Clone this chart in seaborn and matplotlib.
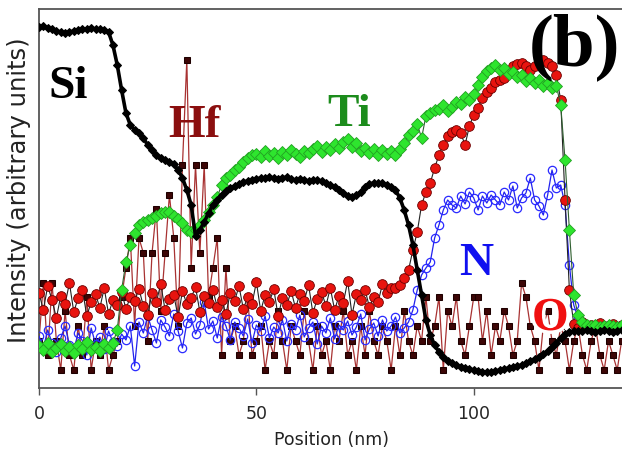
import matplotlib
matplotlib.use("Agg")
import matplotlib.pyplot as plt
import matplotlib.patheffects as pe
import numpy as np
import seaborn as sns

# EDS line scan, intensities in arbitrary units, sampled every 1 nm
position = np.arange(0, 135)

si = [361, 362, 360, 359, 357, 356, 355, 356, 357, 358, 359, 359, 360, 359, 359, 358, 356,
      343, 323, 298, 275,
      263, 258, 255, 250, 243, 238, 233, 230, 228, 226, 224, 218, 210, 198, 183, 152,
      158, 166, 175, 183, 188, 193, 197, 200, 202, 204, 206, 207, 208, 209, 210,
      210, 211, 210, 209, 210, 211, 209, 208, 209, 208, 207, 208, 208,
      207, 205, 203, 201, 198, 195, 192, 191, 193, 196, 201, 204, 205, 205, 205, 203, 201, 198,
      190, 178, 163, 143, 118, 93, 68, 53, 43, 36, 31, 27, 25, 23, 21, 20, 19, 18, 17, 16,
      16, 16, 17, 18, 19, 20, 21, 22, 23, 25, 27, 29, 31, 34, 37, 41, 45, 50, 54, 56,
      57, 57, 57, 58, 57, 56, 57, 58, 57, 56, 57, 58]

ti = [42, 38, 45, 36, 40, 44, 37, 41, 35, 43, 39, 46, 38, 41, 37, 44, 40, 45,
      58, 98, 126, 143, 155, 163, 166, 168, 170, 172, 175, 176, 176, 172, 169, 165, 158, 156,
      158, 163, 168, 176, 183, 191, 203, 210, 213, 218, 221, 226, 230, 233,
      234, 231, 237, 232, 235, 230, 236, 233, 238, 234, 231, 237, 235, 239, 242, 236, 241,
      238, 244, 240, 246, 249, 241, 245, 237, 240, 235, 239, 233, 238, 234, 237, 233, 239,
      245, 253, 257, 264, 250, 272, 275, 278, 279, 283, 277, 281, 286, 284, 291, 288, 294,
      303, 311, 317, 320, 323, 318, 320, 314, 316, 311, 313, 307, 310, 305, 308, 302, 305,
      300, 302, 283, 228, 158, 93, 73, 66,
      63, 62, 63, 61, 62, 63, 62, 61, 63]

oxygen = [95, 78, 102, 88, 70, 92, 84, 105, 76, 90, 98, 72, 86, 94, 80, 100, 74, 88, 83, 96,
          79, 91, 87, 99, 82, 73, 95, 86, 104, 78, 89, 93, 71, 97, 84, 90, 101, 76, 92, 85,
          98, 81, 88, 74, 95, 87, 102, 79, 91, 84, 106, 77, 93, 86, 99, 72, 90, 83, 97, 80,
          94, 87, 103, 75, 89, 96, 82, 100, 78, 92, 85, 107, 73, 94, 88, 98, 81, 91, 86, 104,
          95, 100, 100, 103, 110,
          118, 138, 156, 183, 196, 205, 220, 233, 243, 252, 256, 258, 255, 243, 262, 273,
          280, 290, 296, 300, 306, 308, 310, 316, 322, 324, 325, 322, 318, 322, 327, 328,
          325, 322, 313, 288, 188, 98,
          64, 60, 66, 61, 63, 59, 65, 62, 60, 64, 61, 63]

nitrogen = [52, 40, 58, 45, 36, 50, 62, 43, 38, 55, 47, 33, 60, 44, 51, 39, 57, 46, 42, 54,
            48, 62, 22, 66, 55, 72, 58, 45, 68, 61, 52, 74, 57, 40, 65, 70, 54, 63, 86, 59,
            67, 50, 71, 62, 48, 66,
            60, 52, 69, 45, 63, 57, 72, 50, 61, 55, 68, 47, 64, 58, 73, 51, 60, 66, 44, 62,
            55, 70, 49, 63, 58, 67, 53, 61, 74, 48, 59, 65, 52, 68, 57, 62, 71, 55, 60, 66,
            78, 98, 113, 120, 126, 150, 163, 178, 188, 183, 180, 192, 184, 196, 190, 178,
            192, 185, 193, 188, 183, 196, 188, 202, 180, 190, 195, 210, 188, 182, 173, 193,
            218, 200, 203, 183, 123, 83, 70, 66,
            62, 61, 63, 61, 62, 63, 61, 62, 63]

hf = [47, 105, 33, 105, 47, 18, 77, 33, 18, 62, 33, 91, 18, 47, 33, 62, 18, 33, 47, 91,
      120, 150, 62, 150, 135, 47, 135, 179, 77, 135, 193, 150, 62, 223, 328, 120, 223, 135,
      223, 91, 120, 150, 33, 120,
      47, 62, 33, 47, 91, 33, 47, 62, 18, 47, 33, 77, 47, 18, 62, 47, 33, 77, 47, 18,
      62, 33, 47, 18, 62, 47, 77, 33, 47, 18, 62, 33, 77, 47, 33, 62, 47, 18, 62, 33,
      77, 47, 33, 62, 47,
      91, 47, 62, 91, 18, 77, 62, 91, 47, 33, 62, 91, 91, 47, 77, 33, 62, 47, 77, 62,
      33, 47, 105, 91, 62, 47, 18, 62, 77, 47, 33, 62, 47, 18, 47, 62, 33, 18, 47, 62,
      33, 18, 47, 33, 18, 47]

# element label text, colour, (x, baseline y)
labels = [("Si", "black", 6.7, 290),
          ("Hf", "#8b0f0f", 35.7, 251),
          ("Ti", "#1c8c1c", 71.4, 262),
          ("N", "#1010f0", 100.6, 113),
          ("O", "#f01010", 117.6, 58)]

sns.set_style("white")
plt.rcParams["font.family"] = ["DejaVu Sans"]

fig = plt.figure(figsize=(6.22, 4.53), dpi=100)
ax = fig.add_axes([39 / 622, 65 / 453, 583 / 622, 379 / 453])

common = dict(ax=ax, sort=False, estimator=None, legend=False)
sns.lineplot(x=position, y=hf, color="#a83232", lw=0.9, marker="s", markersize=5,
             markerfacecolor="#3c0606", markeredgecolor="#1e0000", zorder=2, **common)
sns.lineplot(x=position, y=nitrogen, color="#2222ee", lw=0.9, marker="o", markersize=6,
             markerfacecolor="none", markeredgecolor="#2a2aff", markeredgewidth=0.9,
             zorder=3, **common)
sns.lineplot(x=position, y=oxygen, color="#222222", lw=0.8, marker="o", markersize=7,
             markerfacecolor="#e8140f", markeredgecolor="#6a0000", markeredgewidth=0.6,
             zorder=4, **common)
sns.lineplot(x=position, y=ti, color="#2f5f2f", lw=0.8, marker="D", markersize=6.5,
             markerfacecolor="#2ee52e", markeredgecolor="#22a022", markeredgewidth=0.6,
             zorder=5, **common)
sns.lineplot(x=position, y=si, color="black", lw=2.6, marker="D", markersize=4.5,
             markerfacecolor="black", markeredgecolor="black", zorder=6, **common)

for text, col, lx, ly in labels:
    t = ax.text(lx, ly, text, color=col, fontsize=34, fontweight="bold",
                family="Liberation Serif", ha="center", va="baseline", zorder=8)
    if text == "O":
        t.set_path_effects([pe.withStroke(linewidth=5, foreground="white")])
ax.text(123.2, 323, "(b)", color="black", fontsize=54, fontweight="bold",
        family="Liberation Serif", ha="center", va="baseline", zorder=9)

ax.set_xlim(0, 134.1)
ax.set_ylim(0, 379)
ax.set_xticks([0, 50, 100])
ax.set_yticks([])
ax.set_xlabel("")
ax.set_ylabel("")
ax.tick_params(axis="x", direction="out", length=5, width=1, color="#555555",
               labelsize=12.5, pad=7, bottom=True)
for side in ["left", "bottom", "top"]:
    ax.spines[side].set_color("#555555")
    ax.spines[side].set_linewidth(1.3)
ax.spines["right"].set_visible(False)

fig.text(19 / 622, 1 - 190 / 453, "Intensity (arbitrary units)", rotation=90,
         ha="center", va="center", fontsize=17.5, color="#222222")
fig.text(332 / 622, 1 - 440 / 453, "Position (nm)", ha="center", va="center",
         fontsize=12.5, color="#222222")

fig.savefig("out.png", dpi=100)
